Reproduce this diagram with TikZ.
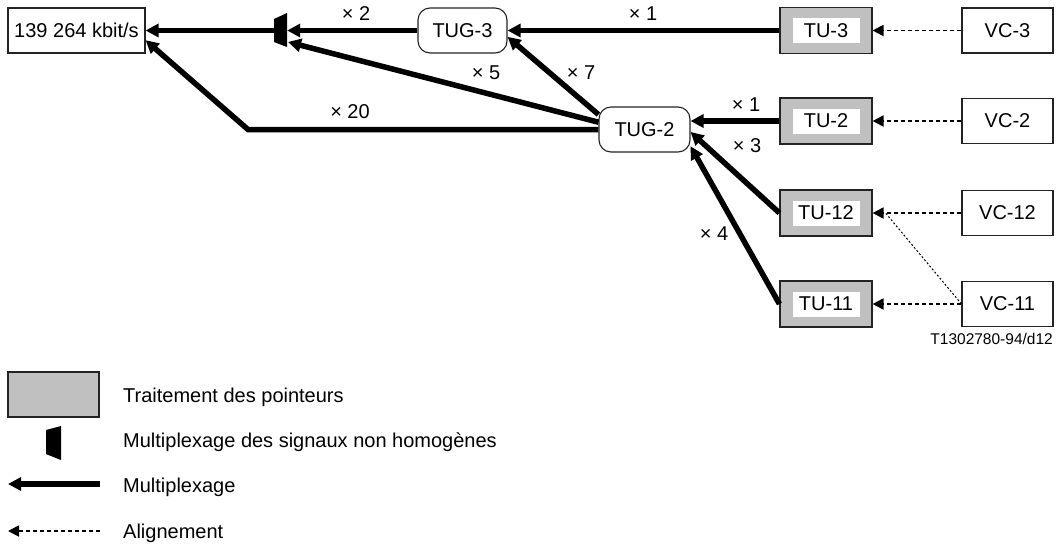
\documentclass[tikz,border=0pt]{standalone}
\usepackage{fontspec}
\setmainfont{Liberation Sans}
\usetikzlibrary{arrows.meta,calc}
\definecolor{ptrgray}{RGB}{192,192,192}
\definecolor{edge}{RGB}{35,35,35}
\tikzset{
  base/.style={font=\fontsize{20}{24}\selectfont, inner sep=0pt},
  plainbox/.style={base, draw=edge, line width=1.1pt, minimum width=91pt, minimum height=45pt},
  groupbox/.style={base, draw=edge, line width=1.1pt, rounded corners=12pt, minimum width=90pt, minimum height=45pt},
  tubox/.style={base, draw=edge, fill=ptrgray, line width=1.1pt, minimum width=92pt, minimum height=46pt,
    path picture={\fill[white] ([xshift=-33.5pt,yshift=-12.5pt]path picture bounding box.center)
      rectangle ([xshift=33.5pt,yshift=12.5pt]path picture bounding box.center);}},
  muxline/.style={line width=5.5pt, -{Triangle[length=13pt,width=13pt]}, line join=miter},
  alignline/.style={line width=1.8pt, dash pattern=on 4pt off 3pt, -{Triangle[length=11pt,width=11pt]}},
  thindot/.style={line width=1pt, dash pattern=on 2pt off 2pt},
  count/.style={base},
  keytext/.style={base, anchor=base west},
}
\begin{document}
\begin{tikzpicture}[x=1pt,y=-1pt]
\useasboundingbox (0,0) rectangle (1060,547);

% boxes of the multiplexing structure
\node[plainbox, minimum width=137pt] (rate) at (76.5,30.5) {139 264 kbit/s};
\node[groupbox, minimum width=89pt] (tug3) at (462.5,30.5) {TUG-3};
\node[groupbox, minimum width=91pt] (tug2) at (644.5,129.5) {TUG-2};
\node[tubox] (tu3)  at (826,30.5) {TU-3};
\node[tubox] (tu2)  at (826,121)  {TU-2};
\node[tubox] (tu12) at (826,213)  {TU-12};
\node[tubox] (tu11) at (826,304)  {TU-11};
\node[plainbox] (vc3)  at (1007.5,30.5) {VC-3};
\node[plainbox] (vc2)  at (1007.5,121)  {VC-2};
\node[plainbox] (vc12) at (1007.5,213)  {VC-12};
\node[plainbox] (vc11) at (1007.5,304)  {VC-11};

% multiplexer for non-homogeneous signals
\fill (274,19) -- (287,13) -- (287,47) -- (274,42) -- cycle;
\node[inner sep=0pt, minimum width=13pt, minimum height=34pt] (mux) at (280.5,30.5) {};
\coordinate (muxin5) at (288,42);
\coordinate (bend20) at (248,129.5);

% multiplexing
\draw[muxline] (rate.east -| mux.west) -- (rate.east);
\draw[muxline] (tug3.west) -- (tug3.west -| mux.east);
\draw[muxline] (tu3.west) -- (tug3.east);
\draw[muxline] (tug2.162) -- (tug3.-8);
\draw[muxline] (tug2.171) -- (muxin5);
\draw[muxline] (tug2.west) -- (bend20) -- (rate.-8);
\draw[muxline] (tu2.west) -- (tu2.west -| tug2.east);
\draw[muxline] (tu12.west) -- (tug2.-3);
\draw[muxline] (tu11.west) -- (tug2.-20);

% alignment
\draw[alignline] (vc3.west) -- (tu3.east);
\draw[alignline] (vc2.west) -- (tu2.east);
\draw[alignline] (vc12.west) -- (tu12.east);
\draw[alignline] (vc11.west) -- (tu11.east);
\draw[thindot] (vc11.west) -- ([xshift=13pt]tu12.east);

% multiplicities
\node[count] (n1)  at (643,14)  {× 1};
\node[count] (n2)  at (356,14)  {× 2};
\node[count] (n5)  at (486,73)  {× 5};
\node[count] (n7)  at (581,73)  {× 7};
\node[count] (n20) at (350,112) {× 20};
\node[count] (n1b) at (746,105) {× 1};
\node[count] (n3)  at (747,146) {× 3};
\node[count] (n4)  at (714,234) {× 4};

\node[base, font=\fontsize{15.5}{18}\selectfont, anchor=east] (ref) at (1053,339) {T1302780-94/d12};

% key
\node[base, draw=edge, fill=ptrgray, line width=1.1pt, minimum width=91pt, minimum height=45pt] (keyptr) at (53.5,394.5) {};
\node[keytext] (keyptrtxt) at (123,402) {Traitement des pointeurs};
\fill (46,430) -- (61,426) -- (61,460) -- (46,454) -- cycle;
\node[keytext] (keymuxtxt) at (123,447) {Multiplexage des signaux non homogènes};
\coordinate (keymR) at (100,484);
\coordinate (keymL) at (8,484);
\draw[muxline] (keymR) -- (keymL);
\node[keytext] (keymtxt) at (123,492) {Multiplexage};
\coordinate (keyaR) at (100,531);
\coordinate (keyaL) at (8,531);
\draw[alignline] (keyaR) -- (keyaL);
\node[keytext] (keyatxt) at (123,538) {Alignement};
\end{tikzpicture}
\end{document}
